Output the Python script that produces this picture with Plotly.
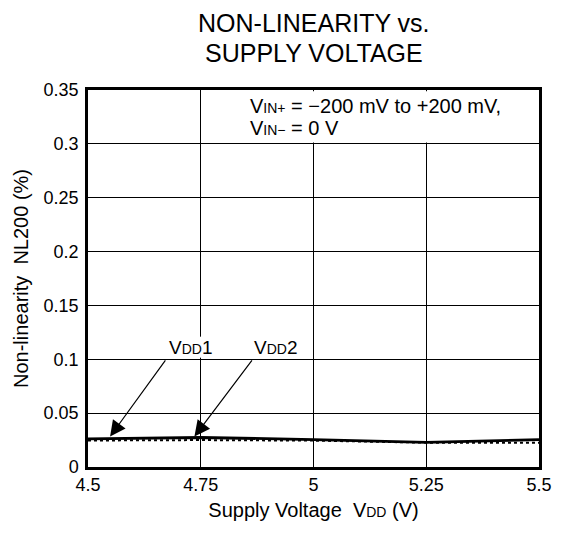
import plotly.graph_objects as go

# Data
supply_v = [4.5, 4.75, 5.0, 5.25, 5.5]
nl_vdd1 = [0.0262, 0.0274, 0.0255, 0.0228, 0.0255]
nl_vdd2 = [0.0246, 0.0250, 0.0245, 0.0226, 0.0226]

x_ticks = [4.5, 4.75, 5.0, 5.25, 5.5]
x_ticktext = ["4.5", "4.75", "5", "5.25", "5.5"]
y_ticks = [0, 0.05, 0.1, 0.15, 0.2, 0.25, 0.3, 0.35]
y_ticktext = ["0", "0.05", "0.1", "0.15", "0.2", "0.25", "0.3", "0.35"]
title_lines = ["NON-LINEARITY vs.", "SUPPLY VOLTAGE"]

FONT = "Liberation Sans, Arial, Helvetica, sans-serif"
SMALL = "<span style='font-size:14px'>{}</span>"

fig = go.Figure()
fig.add_trace(go.Scatter(x=supply_v, y=nl_vdd1, mode="lines",
                         line=dict(color="black", width=2.8), showlegend=False))
fig.add_trace(go.Scatter(x=supply_v, y=nl_vdd2, mode="lines",
                         line=dict(color="black", width=2, dash="dot"), showlegend=False))

# white area behind the condition text (covers gridlines)
fig.add_shape(type="rect", xref="x", yref="y", x0=4.753, x1=5.497, y0=0.3012, y1=0.3488,
              fillcolor="white", line=dict(width=0), layer="above")
# white gap in the 4.75 gridline behind the VDD1 label
fig.add_shape(type="rect", xref="x", yref="y", x0=4.744, x1=4.756, y0=0.1015, y1=0.121,
              fillcolor="white", line=dict(width=0), layer="above")

fig.add_annotation(xref="x", yref="y", x=4.855, y=0.3351, xanchor="left", yanchor="middle",
                   align="left", showarrow=False,
                   text="V" + SMALL.format("IN+") + " = \u2212200 mV to +200 mV,",
                   font=dict(family=FONT, size=20, color="black"))
fig.add_annotation(xref="x", yref="y", x=4.855, y=0.3147, xanchor="left", yanchor="middle",
                   align="left", showarrow=False,
                   text="V" + SMALL.format("IN\u2212") + " = 0 V",
                   font=dict(family=FONT, size=20, color="black"))

# arrows
for tipx, tipy, tx in [(4.549, 0.0283, 4.674), (4.736, 0.0283, 4.866)]:
    fig.add_annotation(xref="x", yref="y", axref="x", ayref="y", x=tipx, y=tipy,
                       ax=tx, ay=0.1003, text="", showarrow=True, arrowhead=2,
                       arrowsize=2.6, arrowwidth=1.2, arrowcolor="black",
                       standoff=0, startstandoff=0)

for lbl, tx in [("1", 4.676), ("2", 4.864)]:
    fig.add_annotation(xref="x", yref="y", x=tx, y=0.1105, xanchor="left", yanchor="middle",
                       showarrow=False,
                       text="V" + SMALL.format("DD") + lbl,
                       font=dict(family=FONT, size=19, color="black"))

# two-line title
for line, shift in zip(title_lines, [67, 37]):
    fig.add_annotation(xref="paper", yref="paper", x=0.5, y=1, xanchor="center",
                       yanchor="middle", yshift=shift, showarrow=False, text=line,
                       font=dict(family=FONT, size=25, color="black"))

fig.update_layout(
    width=557, height=535,
    margin=dict(l=78, r=26, t=82, b=76),
    paper_bgcolor="white", plot_bgcolor="white",
    font=dict(family=FONT, size=18, color="black"),
)
fig.update_xaxes(range=[4.5, 5.5], tickvals=x_ticks, ticktext=x_ticktext,
                 showgrid=True, gridcolor="black", gridwidth=1,
                 showline=True, linecolor="black", linewidth=2.5, mirror=True,
                 ticks="", zeroline=False, tickfont=dict(size=18),
                 title=dict(text="Supply Voltage  V" + SMALL.format("DD") + " (V)",
                            font=dict(size=20), standoff=9))
fig.update_yaxes(range=[0, 0.35], tickvals=y_ticks, ticktext=y_ticktext,
                 showgrid=True, gridcolor="black", gridwidth=1,
                 showline=True, linecolor="black", linewidth=2.5, mirror=True,
                 ticks="", zeroline=False, tickfont=dict(size=18), ticklabelstandoff=3,
                 title=dict(text="Non-linearity  NL200 (%)", font=dict(size=20), standoff=10))

fig.write_html("out.html")
